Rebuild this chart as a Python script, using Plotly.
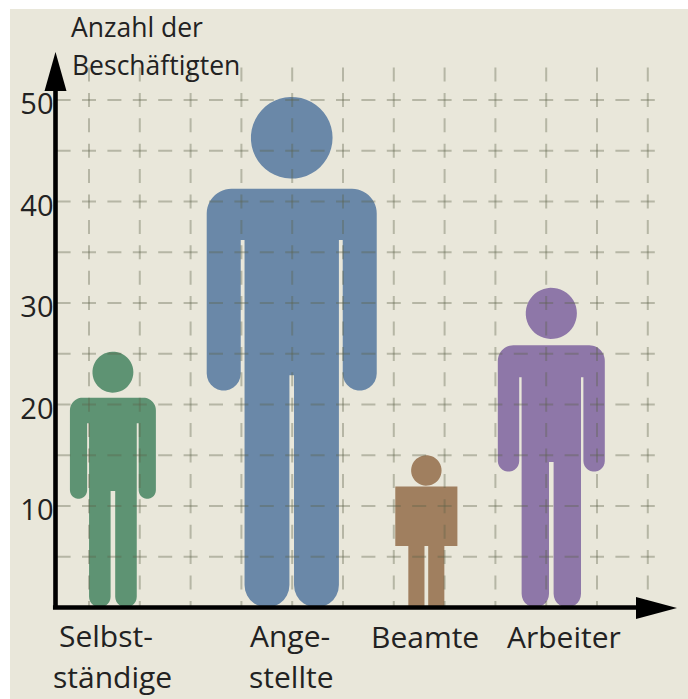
import numpy as np
import plotly.graph_objects as go

# ---- data ----
categories = ["Selbstständige", "Angestellte", "Beamte", "Arbeiter"]
values = [25.2, 50.3, 15, 31.5]
tick_values = [10, 20, 30, 40, 50]
tick_labels = ["10", "20", "30", "40", "50"]
category_lines = [["Selbst-", "ständige"], ["Ange-", "stellte"], ["Beamte"], ["Arbeiter"]]
axis_title_lines = ["Anzahl der", "Beschäftigten"]

# ---- style / layout ----
W, H = 688, 699
X0, Y0 = 55.5, 607.5      # pixel position of the origin
PX_X, PX_Y = 50.8, 10.15  # pixels per x unit / per y unit
colors = ["#5E9373", "#6A88A8", "#A07F5F", "#8E77A8"]
centers = [1.13, 4.65, 7.3, 9.76]
aspects = [0.336, 0.333, 0.408, 0.3346]
square = [False, False, True, False]
TEXT = "#222222"
FONT = "Open Sans"
FS = 30


def X(px):
    return (px - X0) / PX_X


def Y(py):
    return (Y0 - py) / PX_Y


def arc(cx, cy, r, a0, a1, n=14):
    t = np.radians(np.linspace(a0, a1, n))
    return list(cx + r * np.cos(t)), list(cy + r * np.sin(t))


def person(center, value, aspect, is_square):
    """Person pictogram whose height equals value on the y axis."""
    h = value * PX_Y
    half = aspect * h / 2
    xs, ys = [], []

    def add(a, b):
        xs.extend(a)
        ys.extend(b)

    if is_square:
        add([0, half, half, .58 * half, .58 * half, .06 * half, .06 * half, 0],
            [.795 * h, .795 * h, .404 * h, .404 * h, 0, 0, .404 * h, .404 * h])
        head_r, head_y = .1 * h, .9 * h
    else:
        top, hand, crotch, slit = .82 * h, .425 * h, .455 * h, .72 * h
        rc = .29 * half
        inner, torso, gap = .6 * half, .555 * half, 2.3
        rh = (half - inner) / 2
        rl = (torso - gap) / 2
        add([0], [top])
        add(*arc(half - rc, top - rc, rc, 90, 0))
        add(*arc(half - rh, hand + rh, rh, 0, -180))
        add([inner, torso], [slit, slit])
        add(*arc(torso - rl, rl, rl, 0, -180))
        add([gap, 0], [crotch, crotch])
        head_r, head_y = .08 * h, .92 * h

    left_x = [-a for a in reversed(xs)]
    left_y = list(reversed(ys))
    bx = xs + left_x
    by = ys + left_y
    hx, hy = arc(0, head_y, head_r, 0, 360, 48)
    all_x = [center + a / PX_X for a in bx] + [None] + [center + a / PX_X for a in hx]
    all_y = [b / PX_Y for b in by] + [None] + [b / PX_Y for b in hy]
    return all_x, all_y


fig = go.Figure()

for name, c, v, col, asp, sq in zip(categories, centers, values, colors, aspects, square):
    px_, py_ = person(c, v, asp, sq)
    fig.add_trace(go.Scatter(x=px_, y=py_, mode="lines", fill="toself", fillcolor=col,
                             line=dict(width=0, color=col, simplify=False), name=name, hoverinfo="name"))

# dashed grid drawn over the figures, so it shows through them
GRID = "rgba(92,96,72,0.36)"
gx, gy = [], []
for i in range(12):
    gx += [X(89) + i, X(89) + i, None]
    gy += [Y(67.5), 0, None]
fig.add_trace(go.Scatter(x=gx, y=gy, mode="lines", hoverinfo="skip",
                         line=dict(color=GRID, width=2, dash="14px,11.4px")))
hx, hy = [], []
for lvl in range(5, 55, 5):
    hx += [X(56.6), X(662), None]
    hy += [lvl, lvl, None]
fig.add_trace(go.Scatter(x=hx, y=hy, mode="lines", hoverinfo="skip",
                         line=dict(color=GRID, width=2, dash="14px,11.4px")))

# arrow axes
fig.add_trace(go.Scatter(x=[0, 0, None, -0.05, X(640)], y=[Y(80), 0, None, 0, 0], mode="lines",
                         hoverinfo="skip", line=dict(color="black", width=4.6)))
fig.add_trace(go.Scatter(x=[X(55.5), X(66.5), X(44.5), X(55.5)], y=[Y(52), Y(91), Y(91), Y(52)],
                         mode="lines", fill="toself", fillcolor="black", hoverinfo="skip",
                         line=dict(width=0, color="black")))
fig.add_trace(go.Scatter(x=[X(677), X(636), X(636), X(677)], y=[Y(608), Y(597), Y(619), Y(608)],
                         mode="lines", fill="toself", fillcolor="black", hoverinfo="skip",
                         line=dict(width=0, color="black")))

# labels
anns = []
label_cx = [[106, 112], [290, 291], [425], [564]]
label_cy = [[635, 676], [635, 676], [636], [636]]
for lines, cxs, cys in zip(category_lines, label_cx, label_cy):
    for t, cx, cy in zip(lines, cxs, cys):
        anns.append(dict(x=X(cx), y=Y(cy), text=t, showarrow=False, xanchor="center", yanchor="middle",
                         font=dict(family=FONT, size=FS, color=TEXT)))
for t, lx, cy in zip(axis_title_lines, [69, 70], [27, 65]):
    anns.append(dict(x=X(lx), y=Y(cy), text=t, showarrow=False, xanchor="left", yanchor="middle",
                     font=dict(family=FONT, size=26.5, color=TEXT)))

fig.update_layout(
    width=W, height=H, margin=dict(l=0, r=0, t=0, b=0, pad=0), autosize=False,
    paper_bgcolor="white", plot_bgcolor="rgba(0,0,0,0)", showlegend=False,
    annotations=anns,
    shapes=[dict(type="rect", xref="paper", yref="paper", x0=10 / W, x1=1, y0=0, y1=1 - 9 / H,
                 fillcolor="#E9E7DA", line=dict(width=0), layer="below")],
    xaxis=dict(range=[X(0), X(W)], showgrid=False, zeroline=False, showline=False,
               showticklabels=False, ticks="", fixedrange=True),
    yaxis=dict(range=[Y(H), Y(0)], showgrid=False, zeroline=False, showline=False,
               tickmode="array", tickvals=tick_values, ticktext=tick_labels, ticks="",
               anchor="free", position=X0 / W, ticklabelstandoff=2, ticklabelshift=4,
               tickfont=dict(family=FONT, size=29, color=TEXT), fixedrange=True),
)

fig.write_html("out.html", config={"displayModeBar": False},
               post_script="document.body.style.margin='0';document.body.style.overflow='hidden';")
